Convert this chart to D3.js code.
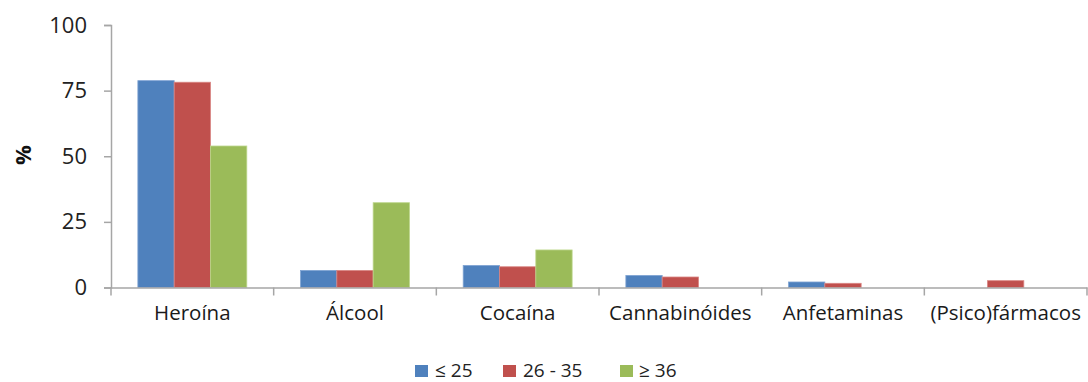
<!DOCTYPE html>
<html>
<head>
<meta charset="utf-8">
<script src="https://cdn.jsdelivr.net/npm/d3@7"></script>
<style>
  html, body { margin: 0; padding: 0; background: #fff; }
  svg { display: block; font-family: "Open Sans", "Liberation Sans", sans-serif; }
</style>
</head>
<body>
<svg id="chart" width="1088" height="382"></svg>
<script>
// Substâncias consumidas por faixa etária (%)
const categories = ["Heroína", "Álcool", "Cocaína", "Cannabinóides", "Anfetaminas", "(Psico)fármacos"];
const seriesNames = ["≤ 25", "26 - 35", "≥ 36"];
const age25 = [78.8, 6.5, 8.4, 4.6, 2.1, 0];
const age26to35 = [78.2, 6.5, 7.9, 4.0, 1.6, 2.6];
const age36 = [53.9, 32.3, 14.3, 0, 0, 0];
const yTicks = [0, 25, 50, 75, 100];
const colors = ["#4F81BD", "#C0504D", "#9BBB59"];
const strokes = ["#7FA3D3", "#D98683", "#BCD68A"];

const seriesValues = [age25, age26to35, age36];

const svg = d3.select("#chart");
const margin = { left: 111, right: 1, top: 25, bottom: 94.5 };
const W = 1088, H = 382;

const x = d3.scaleBand().domain(categories).range([margin.left, W - margin.right]).padding(0);
const xs = d3.scaleBand().domain(d3.range(seriesNames.length)).range([0, x.bandwidth()]).paddingInner(0).paddingOuter(0.74);
const y = d3.scaleLinear().domain([0, 100]).range([H - margin.bottom, margin.top]);

const axisColor = "#A6A6A6";

// bars
const groups = svg.append("g").selectAll("g")
  .data(categories)
  .join("g")
  .attr("transform", d => `translate(${x(d)},0)`);

groups.selectAll("rect")
  .data((c, i) => seriesValues.map((vals, s) => ({ s, v: vals[i] })).filter(d => d.v > 0))
  .join("rect")
  .attr("x", d => xs(d.s))
  .attr("width", xs.bandwidth())
  .attr("y", d => y(d.v))
  .attr("height", d => y(0) - y(d.v))
  .attr("fill", d => colors[d.s])
  .attr("stroke", d => strokes[d.s])
  .attr("stroke-width", 0.8);

// y axis
const yAxis = svg.append("g")
  .attr("transform", `translate(${margin.left},0)`)
  .call(d3.axisLeft(y).tickValues(yTicks).tickSize(7).tickPadding(17).tickFormat(d3.format("d")));
yAxis.select(".domain").attr("stroke", axisColor).attr("stroke-width", 1.5);
yAxis.selectAll(".tick line").attr("stroke", axisColor).attr("stroke-width", 1.5);
yAxis.selectAll(".tick text")
  .attr("fill", "#222")
  .style("font-size", "22px")
  .style("font-family", "\"Open Sans\", sans-serif");

// x axis baseline with tick marks at category boundaries
const xAxis = svg.append("g")
  .attr("transform", `translate(0,${y(0)})`)
  .call(d3.axisBottom(x).tickSize(0).tickPadding(18));
xAxis.select(".domain").attr("stroke", axisColor).attr("stroke-width", 1.5);
xAxis.selectAll(".tick text")
  .attr("fill", "#1a1a1a")
  .style("font-size", "20.5px")
  .style("font-family", "\"Open Sans\", sans-serif");

const edges = categories.map(c => x(c)).concat([x(categories[categories.length - 1]) + x.bandwidth()]);
xAxis.selectAll("line.edge")
  .data(edges)
  .join("line")
  .attr("class", "edge")
  .attr("x1", d => d).attr("x2", d => d)
  .attr("y1", 0).attr("y2", 8)
  .attr("stroke", axisColor)
  .attr("stroke-width", 1.5);

// y axis title
svg.append("text")
  .attr("transform", `translate(31,155) rotate(-90)`)
  .attr("text-anchor", "middle")
  .style("font-size", "22px")
  .style("font-weight", "bold")
  .attr("fill", "#111")
  .text("%");

// legend
const legendItems = [
  { x: 415, tx: 435 },
  { x: 503, tx: 523 },
  { x: 620, tx: 639 }
];
const legend = svg.append("g");
legendItems.forEach((it, i) => {
  legend.append("rect")
    .attr("x", it.x).attr("y", 365)
    .attr("width", 13).attr("height", 12)
    .attr("fill", colors[i]);
  legend.append("text")
    .attr("x", it.tx).attr("y", 376.5)
    .style("font-size", "19px")
    .attr("fill", "#222")
    .text(seriesNames[i]);
});
</script>
</body>
</html>
